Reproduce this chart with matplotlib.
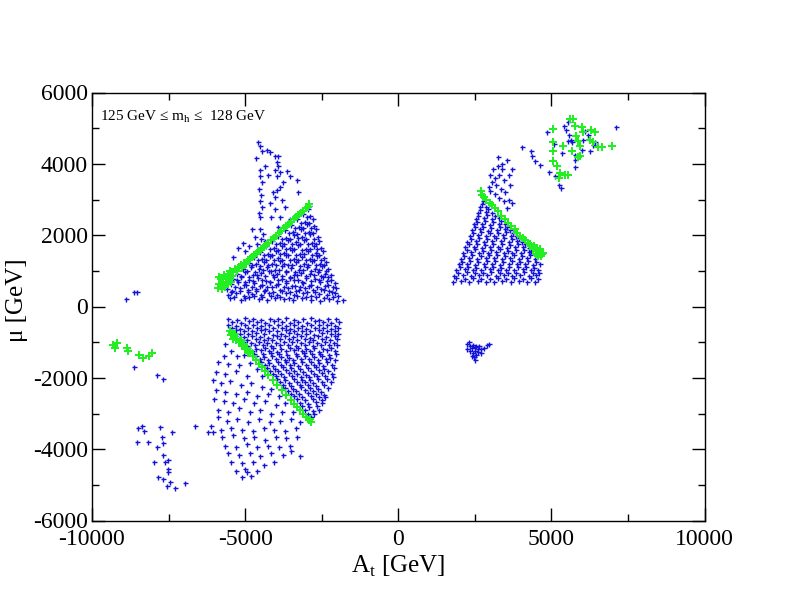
import matplotlib
matplotlib.use("Agg")
import matplotlib.pyplot as plt
from matplotlib.ticker import MultipleLocator

plt.rcParams['font.family'] = ['Liberation Serif', 'DejaVu Serif']
plt.rcParams['mathtext.fontset'] = 'custom'
plt.rcParams['mathtext.rm'] = 'Liberation Serif'
plt.rcParams['axes.unicode_minus'] = False

# ---------------- data (A_t [GeV], mu [GeV]) ----------------
upper_left_dense = [
    (-5480,230),(-5150,190),(-4870,260),(-4560,210),(-4300,180),(-4010,240),(-3720,200),(-3430,170),(-3150,230),(-2850,190),(-2560,160),(-2270,210),(-1990,150),(-1820,180),
    (-5560,330),(-5300,380),(-5050,300),(-4780,360),(-4490,320),(-4230,390),(-3950,310),(-3680,370),(-3390,330),(-3120,390),(-2840,300),(-2600,360),(-2330,320),(-2080,380),(-1960,290),
    (-5590,480),(-5420,430),(-5180,520),(-4920,450),(-4660,500),(-4400,430),(-4130,540),(-3870,470),(-3600,510),(-3340,440),(-3060,530),(-2790,460),(-2520,500),(-2250,430),(-2040,520),
    (-5450,620),(-5230,680),(-4980,590),(-4720,650),(-4450,600),(-4190,690),(-3920,620),(-3650,670),(-3380,580),(-3110,650),(-2840,610),(-2570,690),(-2300,600),(-2080,660),
    (-5380,760),(-5120,820),(-4860,740),(-4590,800),(-4330,720),(-4060,840),(-3800,770),(-3530,810),(-3270,730),(-3000,800),(-2730,760),(-2460,830),(-2200,750),
    (-5250,900),(-5000,960),(-4740,880),(-4470,940),(-4210,990),(-3950,910),(-3680,970),(-3420,880),(-3160,950),(-2890,900),(-2630,980),(-2380,920),(-2200,870),
    (-5080,1060),(-4820,1120),(-4560,1040),(-4300,1100),(-4040,1020),(-3780,1130),(-3510,1070),(-3250,1010),(-2990,1110),(-2730,1040),(-2480,1130),(-2300,1060),
    (-4880,1230),(-4630,1180),(-4370,1260),(-4110,1200),(-3850,1280),(-3590,1170),(-3330,1240),(-3070,1190),(-2810,1270),(-2560,1200),(-2360,1250),
    (-4700,1380),(-4450,1330),(-4190,1410),(-3930,1350),(-3670,1430),(-3410,1320),(-3150,1400),(-2890,1340),(-2640,1420),(-2410,1360),
    (-4500,1540),(-4250,1480),(-3990,1560),(-3730,1500),(-3470,1580),(-3210,1470),(-2950,1550),(-2700,1490),(-2460,1570),
    (-4320,1690),(-4060,1630),(-3800,1710),(-3540,1650),(-3280,1720),(-3020,1620),(-2760,1700),(-2520,1640),
    (-4110,1830),(-3860,1780),(-3600,1860),(-3340,1800),(-3080,1870),(-2830,1770),(-2580,1850),
    (-3920,1990),(-3660,1930),(-3400,2010),(-3140,1950),(-2880,2030),(-2630,1960),
    (-3700,2140),(-3440,2080),(-3180,2160),(-2920,2100),(-2680,2170),
    (-3500,2290),(-3250,2230),(-2990,2310),(-2740,2250),
    (-3300,2440),(-3040,2380),(-2800,2460),
    (-3120,2590),(-2880,2540),
    (-2960,2740),(-2900,2830),
    (-5350,270),(-5020,240),(-4710,290),(-4440,260),(-4160,300),(-3860,270),(-3570,250),(-3290,290),(-3000,260),(-2700,280),(-2410,250),(-2120,270),
    (-5450,410),(-5170,440),(-4900,400),(-4630,430),(-4350,460),(-4080,410),(-3800,440),(-3530,400),(-3250,450),(-2980,410),(-2710,420),(-2440,460),(-2170,410),
    (-5320,560),(-5050,590),(-4790,550),(-4530,580),(-4270,560),(-4000,590),(-3740,550),(-3470,580),(-3200,560),(-2930,570),(-2660,550),(-2390,580),(-2140,560),
    (-5270,730),(-5000,700),(-4730,720),(-4460,750),(-4200,700),(-3930,740),(-3660,710),(-3390,750),(-3130,700),(-2860,720),(-2590,740),(-2330,710),
    (-5130,860),(-4870,830),(-4600,870),(-4340,850),(-4080,880),(-3810,860),(-3550,830),(-3290,870),(-3020,850),(-2760,880),(-2510,860),(-2290,840),
    (-4950,1000),(-4690,980),(-4430,1010),(-4170,990),(-3910,1030),(-3650,1000),(-3380,980),(-3120,1020),(-2860,990),(-2600,1010),(-2350,990),
    (-4760,1160),(-4500,1140),(-4240,1170),(-3980,1150),(-3720,1180),(-3460,1150),(-3200,1130),(-2940,1160),(-2680,1150),(-2440,1170),
    (-4580,1300),(-4320,1290),(-4060,1310),(-3800,1290),(-3540,1300),(-3280,1290),(-3020,1310),(-2760,1300),(-2510,1290),
    (-4380,1450),(-4120,1440),(-3860,1460),(-3600,1450),(-3340,1440),(-3080,1460),(-2830,1450),(-2580,1440),
    (-4190,1600),(-3930,1590),(-3670,1610),(-3410,1600),(-3150,1590),(-2890,1610),(-2640,1600),
    (-3980,1750),(-3730,1740),(-3470,1760),(-3210,1750),(-2950,1740),(-2700,1760),
    (-3790,1900),(-3530,1890),(-3270,1910),(-3010,1900),(-2760,1890),
    (-3570,2050),(-3310,2040),(-3050,2060),(-2800,2050),
    (-3370,2200),(-3110,2190),(-2860,2210),
    (-3170,2350),(-2920,2340),
    (-2990,2500),
]

upper_left_sparse = [
    (-4580,4600),(-4520,4490),(-4450,4350),(-4290,4400),(-4190,4320),(-4030,4210),(-3930,4230),
    (-3960,4040),(-3930,3930),(-4030,3840),(-3870,3760),(-3960,3650),(-3640,3790),(-3540,3650),
    (-3310,3560),(-3280,3220),(-3770,3480),(-3870,3360),(-3960,3280),(-4030,3080),
    (-4500,3840),(-4530,3650),(-4460,3500),(-4550,3300),(-4480,3120),(-4520,2950),(-4440,2780),
    (-4560,2620),(-4500,2520),(-4500,2160),(-4420,2020),(-4350,1850),(-4600,1750),(-4480,1880),
    (-5070,1790),(-4780,2160),(-4680,1960),(-5240,1650),(-5400,1400),(-5000,1550),(-4880,1700),
    (-4030,2720),(-3870,2520),(-3930,2240),(-3700,2800),(-3540,2440),(-4200,2900),(-4100,3200),
    (-3800,3000),(-4150,2500),(-4350,3950),(-4650,4150),(-4250,3700),
]

lower_left_dense = [
    (-5550,-340),(-5280,-370),(-5010,-330),(-4740,-360),(-4470,-380),(-4200,-340),(-3930,-360),(-3660,-330),(-3390,-370),(-3120,-350),(-2850,-330),(-2580,-370),(-2310,-340),(-2040,-360),
    (-5420,-430),(-5150,-450),(-4880,-420),(-4610,-440),(-4340,-460),(-4070,-420),(-3800,-440),(-3530,-460),(-3260,-430),(-2990,-450),(-2720,-420),(-2450,-440),(-2180,-460),(-1950,-430),
    (-5560,-520),(-5290,-540),(-5020,-510),(-4750,-530),(-4480,-550),(-4210,-520),(-3940,-510),(-3670,-540),(-3400,-520),(-3130,-550),(-2860,-510),(-2590,-530),(-2320,-520),(-2050,-540),
    (-5430,-600),(-5160,-620),(-4890,-590),(-4620,-610),(-4350,-630),(-4080,-600),(-3810,-590),(-3540,-620),(-3270,-600),(-3000,-630),(-2730,-590),(-2460,-610),(-2190,-620),(-1960,-600),
    (-5500,-690),(-5300,-670),(-5030,-700),(-4760,-680),(-4490,-660),(-4220,-690),(-3950,-700),(-3680,-670),(-3410,-690),(-3140,-680),(-2870,-700),(-2600,-670),(-2330,-690),(-2060,-680),
    (-5180,-760),(-4910,-780),(-4640,-750),(-4370,-770),(-4100,-790),(-3830,-760),(-3560,-750),(-3290,-780),(-3020,-760),(-2750,-790),(-2480,-750),(-2210,-770),(-1980,-760),
    (-5320,-840),(-5050,-860),(-4780,-830),(-4510,-850),(-4240,-870),(-3970,-840),(-3700,-830),(-3430,-860),(-3160,-840),(-2890,-870),(-2620,-830),(-2350,-850),(-2080,-840),
    (-5200,-920),(-4930,-940),(-4660,-910),(-4390,-930),(-4120,-950),(-3850,-920),(-3580,-910),(-3310,-940),(-3040,-920),(-2770,-950),(-2500,-910),(-2230,-930),(-1990,-920),
    (-5080,-1000),(-4810,-1020),(-4540,-990),(-4270,-1010),(-4000,-1030),(-3730,-1000),(-3460,-990),(-3190,-1020),(-2920,-1000),(-2650,-1030),(-2380,-990),(-2110,-1010),
    (-5100,-1080),(-4950,-1100),(-4680,-1070),(-4410,-1090),(-4140,-1110),(-3870,-1080),(-3600,-1070),(-3330,-1100),(-3060,-1080),(-2790,-1110),(-2520,-1070),(-2250,-1090),(-2010,-1080),
    (-4900,-1160),(-4630,-1180),(-4360,-1150),(-4090,-1170),(-3820,-1190),(-3550,-1160),(-3280,-1150),(-3010,-1180),(-2740,-1160),(-2470,-1190),(-2200,-1150),
    (-4880,-1240),(-4760,-1260),(-4490,-1230),(-4220,-1250),(-3950,-1270),(-3680,-1240),(-3410,-1230),(-3140,-1260),(-2870,-1240),(-2600,-1270),(-2330,-1230),(-2060,-1250),
    (-4700,-1320),(-4430,-1340),(-4160,-1310),(-3890,-1330),(-3620,-1350),(-3350,-1320),(-3080,-1310),(-2810,-1340),(-2540,-1320),(-2270,-1350),(-2030,-1320),
    (-4650,-1400),(-4380,-1420),(-4110,-1390),(-3840,-1410),(-3570,-1430),(-3300,-1400),(-3030,-1390),(-2760,-1420),(-2490,-1400),(-2220,-1430),
    (-4520,-1480),(-4250,-1500),(-3980,-1470),(-3710,-1490),(-3440,-1510),(-3170,-1480),(-2900,-1470),(-2630,-1500),(-2360,-1480),(-2070,-1490),
    (-4480,-1560),(-4210,-1580),(-3940,-1550),(-3670,-1570),(-3400,-1590),(-3130,-1560),(-2860,-1550),(-2590,-1580),(-2320,-1560),
    (-4360,-1640),(-4090,-1660),(-3820,-1630),(-3550,-1650),(-3280,-1670),(-3010,-1640),(-2740,-1630),(-2470,-1660),(-2150,-1640),
    (-4300,-1720),(-4030,-1740),(-3760,-1710),(-3490,-1730),(-3220,-1750),(-2950,-1720),(-2680,-1710),(-2410,-1740),(-2100,-1720),
    (-4200,-1800),(-3930,-1820),(-3660,-1790),(-3390,-1810),(-3120,-1830),(-2850,-1800),(-2580,-1790),(-2310,-1820),
    (-4100,-1880),(-3830,-1900),(-3560,-1870),(-3290,-1890),(-3020,-1910),(-2750,-1880),(-2480,-1870),(-2150,-1890),
    (-4000,-1960),(-3730,-1980),(-3460,-1950),(-3190,-1970),(-2920,-1990),(-2650,-1960),(-2380,-1950),(-2120,-1970),
    (-3960,-2040),(-3690,-2060),(-3420,-2030),(-3150,-2050),(-2880,-2070),(-2610,-2040),(-2340,-2030),
    (-3850,-2120),(-3580,-2140),(-3310,-2110),(-3040,-2130),(-2770,-2150),(-2500,-2120),(-2200,-2130),
    (-3760,-2200),(-3490,-2220),(-3220,-2190),(-2950,-2210),(-2680,-2230),(-2410,-2200),
    (-3700,-2280),(-3430,-2300),(-3160,-2270),(-2890,-2290),(-2620,-2310),(-2300,-2280),
    (-3600,-2360),(-3330,-2380),(-3060,-2350),(-2790,-2370),(-2520,-2390),
    (-3500,-2440),(-3230,-2460),(-2960,-2430),(-2690,-2450),(-2420,-2470),
    (-3400,-2520),(-3130,-2540),(-2860,-2510),(-2590,-2530),(-2380,-2550),
    (-3320,-2600),(-3050,-2620),(-2780,-2590),(-2500,-2610),
    (-3200,-2700),(-2950,-2720),(-2700,-2690),(-2500,-2710),
    (-3150,-2800),(-2900,-2820),(-2650,-2790),
    (-3050,-2900),(-2800,-2920),(-2600,-2890),
    (-2950,-3000),(-2750,-3020),
    (-2850,-3100),
]

lower_left_sparse = [
    (-5650,-1050),(-5450,-1250),(-5700,-1380),(-5250,-1400),(-5050,-1350),
    (-5900,-1550),(-5550,-1600),(-5200,-1650),(-4850,-1580),(-4600,-1750),(-5950,-1850),(-5650,-1900),(-5300,-1800),(-4950,-1950),(-4450,-1950),
    (-6050,-2050),(-5800,-2150),(-5500,-2100),(-5150,-2200),(-4800,-2150),(-4450,-2250),(-4150,-2300),(-5950,-2350),(-5650,-2400),(-5300,-2450),(-4950,-2400),(-4600,-2500),(-4250,-2450),(-3900,-2500),
    (-6000,-2600),(-5700,-2650),(-5400,-2700),(-5050,-2600),(-4700,-2700),(-4350,-2650),(-4000,-2750),(-3700,-2700),(-5900,-2900),(-5550,-2950),(-5200,-2850),(-4850,-2950),(-4500,-2900),(-4150,-3000),(-3800,-2950),(-3450,-2950),
    (-5900,-3100),(-5600,-3200),(-5250,-3150),(-4900,-3250),(-4550,-3150),(-4200,-3250),(-3850,-3200),(-3500,-3150),(-3200,-3250),(-5800,-3450),(-5450,-3400),(-5100,-3450),(-4750,-3500),(-4400,-3400),(-4050,-3450),(-3700,-3500),(-3350,-3400),
    (-5750,-3650),(-5400,-3600),(-5050,-3700),(-4700,-3650),(-4350,-3750),(-4000,-3650),(-3650,-3700),(-3300,-3650),(-5650,-3900),(-5300,-3950),(-4950,-3850),(-4600,-3950),(-4250,-3900),(-3900,-3950),(-3550,-3900),
    (-5550,-4100),(-5200,-4150),(-4850,-4100),(-4500,-4200),(-4150,-4100),(-3770,-4150),(-3210,-4200),(-3500,-4050),(-5450,-4350),(-5100,-4400),(-4750,-4350),(-4400,-4450),(-4050,-4350),
    (-5300,-4600),(-5100,-4770),(-4950,-4650),(-4600,-4600),(-4800,-4750),(-5000,-4550),
]

upper_right_dense = [
    (1780,690),(2050,710),(2320,680),(2590,720),(2860,700),(3130,680),(3400,710),(3670,690),(3940,720),(4210,700),(4480,690),
    (1900,790),(2170,770),(2440,800),(2710,780),(2980,760),(3250,790),(3520,780),(3790,800),(4060,770),(4330,790),(4560,780),
    (1830,860),(2100,880),(2370,850),(2640,870),(2910,880),(3180,850),(3450,870),(3720,860),(3990,880),(4260,850),(4510,870),
    (1960,940),(2230,960),(2500,930),(2770,950),(3040,960),(3310,930),(3580,950),(3850,940),(4120,960),(4390,930),(4600,950),
    (1900,1020),(2170,1040),(2440,1010),(2710,1030),(2980,1040),(3250,1010),(3520,1030),(3790,1020),(4060,1040),(4330,1010),(4560,1030),
    (2010,1100),(2280,1120),(2550,1090),(2820,1110),(3090,1120),(3360,1090),(3630,1110),(3900,1100),(4170,1120),(4440,1090),
    (1980,1180),(2250,1200),(2520,1170),(2790,1190),(3060,1200),(3330,1170),(3600,1190),(3870,1180),(4140,1200),(4410,1170),(4640,1190),
    (2080,1260),(2350,1280),(2620,1250),(2890,1270),(3160,1280),(3430,1250),(3700,1270),(3970,1260),(4240,1280),(4510,1250),
    (2040,1340),(2310,1360),(2580,1330),(2850,1350),(3120,1360),(3390,1330),(3660,1350),(3930,1340),(4200,1360),(4470,1330),
    (2150,1420),(2420,1440),(2690,1410),(2960,1430),(3230,1440),(3500,1410),(3770,1430),(4040,1420),(4310,1440),
    (2110,1500),(2380,1520),(2650,1490),(2920,1510),(3190,1520),(3460,1490),(3730,1510),(4000,1500),(4270,1520),(4500,1480),
    (2230,1580),(2500,1600),(2770,1570),(3040,1590),(3310,1600),(3580,1570),(3850,1590),(4120,1580),(4350,1570),
    (2190,1660),(2460,1680),(2730,1650),(3000,1670),(3270,1680),(3540,1650),(3810,1670),(4080,1660),(4280,1650),
    (2300,1740),(2570,1760),(2840,1730),(3110,1750),(3380,1760),(3650,1730),(3920,1750),(4150,1740),
    (2260,1820),(2530,1840),(2800,1810),(3070,1830),(3340,1840),(3610,1810),(3880,1830),(4050,1820),
    (2370,1900),(2640,1920),(2910,1890),(3180,1910),(3450,1920),(3720,1890),(3950,1910),
    (2330,1980),(2600,2000),(2870,1970),(3140,1990),(3410,2000),(3680,1970),(3860,1990),
    (2440,2060),(2710,2080),(2980,2050),(3250,2070),(3520,2080),(3760,2060),
    (2400,2140),(2670,2160),(2940,2130),(3210,2150),(3480,2160),(3650,2140),
    (2500,2220),(2770,2240),(3040,2210),(3310,2230),(3560,2220),
    (2470,2300),(2740,2320),(3010,2290),(3280,2310),(3480,2300),
    (2560,2380),(2830,2400),(3100,2370),(3370,2390),
    (2530,2460),(2800,2480),(3070,2450),(3280,2470),
    (2620,2540),(2890,2560),(3150,2530),
    (2600,2620),(2850,2640),(3050,2610),
    (2680,2700),(2930,2720),
    (2660,2780),(2880,2790),
    (2720,2870),
    (2760,2950),
]

upper_right_above = [
    (2950,3350),(3050,3500),(3000,3700),(3150,3600),(3100,3850),(3250,3950),(3200,3400),(3350,3300),
    (3300,3700),(3450,3550),(3400,3850),(3550,4100),(3500,3200),(3600,3000),(3650,3400),(3550,2750),
    (3700,2900),(3600,3700),(3400,4000),(3000,3250),(3150,3150),(3300,3050),(3450,2950),(3700,3850),
    (3250,4200),
]

top_right_blue = [
    (5530,5160),(5400,5050),(5470,4940),(5560,4820),(5630,4680),(5530,4630),(5660,4600),(5070,4570),
    (4850,4880),(6090,4910),(6020,4680),(6180,4820),(6350,4540),(6250,4350),(5990,4400),(5760,4260),
    (5760,4120),(5760,3900),(5340,4290),(7100,5020),(4030,4460),(4320,4350),(4360,4210),(4450,4070),
    (4620,3980),(4910,3760),(5110,3650),(5240,3420),(5300,3310),(6440,4600),
]

small_cluster = [
    (2250,-1050),(2300,-1000),(2350,-1100),(2400,-1150),(2450,-1080),(2500,-1130),(2550,-1100),
    (2600,-1180),(2650,-1120),(2700,-1200),(2800,-1150),(2900,-1080),(2950,-1050),(2350,-1250),
    (2450,-1300),(2500,-1250),(2550,-1350),(2480,-1420),(2520,-1500),(2420,-1380),(2600,-1280),
    (2700,-1300),(2250,-1200),
]

far_left_blue = [
    (-8630,420),(-8530,420),(-8890,220),(-8630,-1710),(-7880,-1910),(-7680,-2020),
    (-8500,-3420),(-8370,-3360),(-8300,-3480),(-7780,-3390),(-7390,-3510),(-8530,-3790),(-8170,-3790),
    (-7710,-3650),(-7680,-3840),(-7880,-3950),(-7680,-4150),(-7610,-4350),(-7520,-4290),(-7980,-4370),
    (-7520,-4570),(-7520,-4650),(-7840,-4770),(-7680,-4850),(-7450,-4910),(-7550,-5020),(-7290,-5100),
    (-6970,-4940),(-6640,-3340),(-6120,-3340),(-6220,-3530),(-6050,-3510),
]

green_upper_left = [
    (-5900,520),(-5850,640),(-5800,760),(-5780,580),(-5720,700),(-5700,880),(-5650,560),(-5620,780),
    (-5600,660),(-5550,900),(-5500,760),(-5480,1000),(-5420,860),(-5380,960),(-5320,1060),(-5250,1000),
    (-5200,1100),(-5150,1160),(-5100,1080),(-5050,1220),(-4980,1200),(-4920,1290),(-4850,1330),
    (-4780,1380),(-4700,1440),(-4620,1500),(-4550,1560),(-4470,1620),(-4400,1660),(-4320,1730),
    (-4240,1790),(-4150,1860),(-4070,1930),(-3990,1990),(-3900,2060),(-3820,2130),(-3740,2190),
    (-3660,2250),(-3580,2310),(-3500,2380),(-3420,2440),(-3340,2500),(-3260,2560),(-3180,2630),
    (-3100,2690),(-3020,2750),(-2950,2800),(-2900,2860),(-5860,840),(-5750,480),(-5550,620),(-5450,700),
]

green_lower_left = [
    (-5500,-700),(-5450,-800),(-5400,-900),(-5420,-750),(-5350,-850),(-5300,-950),(-5320,-780),
    (-5250,-900),(-5200,-1000),(-5150,-950),(-5100,-1100),(-5050,-1050),(-5000,-1200),(-4950,-1150),
    (-4900,-1300),(-4850,-1250),(-4750,-1400),(-4650,-1500),(-4550,-1600),(-4450,-1700),(-4350,-1820),
    (-4250,-1920),(-4100,-2050),(-3950,-2200),(-3800,-2330),(-3650,-2480),(-3500,-2620),(-3400,-2720),
    (-3300,-2810),(-3200,-2910),(-3100,-3000),(-3000,-3100),(-2920,-3180),(-2850,-3250),(-2880,-3150),
]

green_upper_right = [
    (2710,3230),(2750,3140),(2800,3080),(2880,3000),(2990,2910),(3070,2850),(3150,2770),(3260,2670),
    (3370,2550),(3480,2440),(3580,2350),(3690,2250),(3800,2160),(3880,2060),(3960,1970),(4070,1930),
    (4150,1860),(4240,1790),(4300,1750),(4350,1690),(4400,1600),(4450,1650),(4510,1550),(4560,1410),
    (4620,1510),(4620,1600),(4670,1410),(4720,1510),(4500,1480),(4580,1470),(4680,1480),(4530,1640),
    (4420,1700),
]

green_top_right = [
    (5600,5270),(5690,5270),(5760,5050),(5990,5020),(6020,4880),(5820,4770),(5860,4630),(5920,4490),
    (6310,4960),(6410,4880),(6250,4680),(6350,4600),(6510,4460),(6640,4460),(6970,4510),(5040,4990),
    (5040,4600),(5370,4510),(5660,4370),(5040,4370),(5040,4090),(5170,3930),(5270,3730),(5430,3700),
    (5530,3700),(5240,3590),(5860,4180),(5920,4210),
]

green_far_left = [
    (-9320,-1070),(-9250,-1150),(-9190,-1010),(-8860,-1150),(-8830,-1260),(-8470,-1370),
    (-8340,-1430),(-8140,-1400),(-8040,-1290),
]

blue_sets = [upper_left_dense, upper_left_sparse, lower_left_dense, lower_left_sparse,
             upper_right_dense, upper_right_above, top_right_blue, small_cluster, far_left_blue]
green_sets = [green_upper_left, green_lower_left, green_upper_right, green_top_right, green_far_left]

blue_pts = [p for s in blue_sets for p in s]
green_pts = [p for s in green_sets for p in s]

# ---------------- figure ----------------
fig = plt.figure(figsize=(7.92, 6.12), dpi=100)
ax = fig.add_axes([92/792, 1-520.5/612, 612.5/792, 428/612])

ax.plot([p[0] for p in blue_pts], [p[1] for p in blue_pts], linestyle='none',
        marker='+', markersize=3.6, markeredgewidth=1.0, color='#1212d8')
ax.plot([p[0] for p in green_pts], [p[1] for p in green_pts], linestyle='none',
        marker='P', markersize=5.5, markeredgewidth=0, color='#22ee22')

ax.set_xlim(-10000, 10000)
ax.set_ylim(-6000, 6000)
ax.xaxis.set_major_locator(MultipleLocator(5000))
ax.xaxis.set_minor_locator(MultipleLocator(2500))
ax.yaxis.set_major_locator(MultipleLocator(2000))
ax.yaxis.set_minor_locator(MultipleLocator(1000))
ax.tick_params(which='both', direction='in', top=True, right=True, width=1.0)
ax.tick_params(which='major', length=9.5, labelsize=17)
ax.tick_params(axis='x', which='major', pad=6)
ax.tick_params(axis='y', which='major', pad=3)
ax.tick_params(which='minor', length=5)
for sp in ax.spines.values():
    sp.set_linewidth(1.0)

ax.text(8/612.5, 1-27.5/428, r'125 GeV ≤ m$_\mathrm{h}$ ≤  128 GeV', transform=ax.transAxes,
        fontsize=11, va='baseline', ha='left')

fig.text(398/792, 1-566/612, r'A$_\mathrm{t}$ [GeV]', fontsize=18, ha='center', va='center')
fig.text(17/792, 1-300/612, 'μ [GeV]', fontsize=18, ha='center', va='center', rotation=90)

fig.savefig('out.png', dpi=100)
